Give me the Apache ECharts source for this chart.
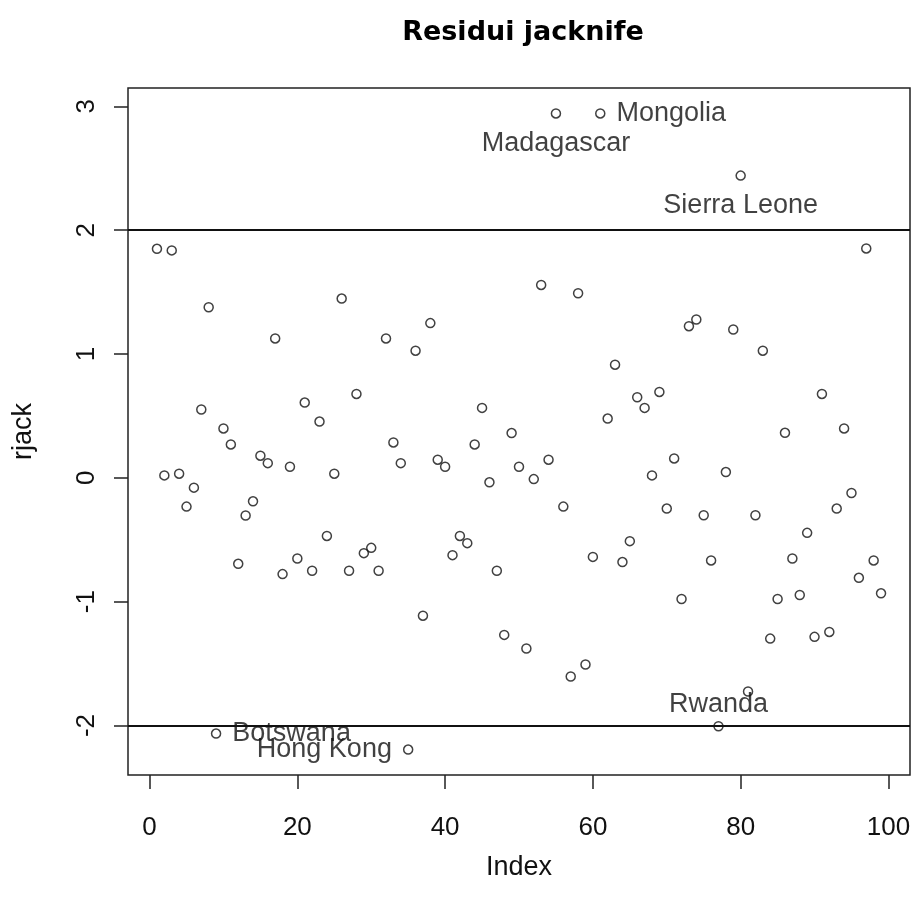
<!DOCTYPE html>
<html>
<head>
<meta charset="utf-8">
<title>Residui jacknife</title>
<script src="https://cdn.jsdelivr.net/npm/echarts@6/dist/echarts.min.js"></script>
<style>
  html, body { margin: 0; padding: 0; background: #ffffff; }
  #chart { width: 915px; height: 901px; }
</style>
</head>
<body>
<div id="chart"></div>
<script>
// Jackknife (studentized deleted) residuals, one per observation, in index order
const rjack = [
   1.850,  0.020,  1.837,  0.034, -0.232, -0.079,  0.552,  1.378, -2.065,  0.399,
   0.270, -0.694, -0.304, -0.189,  0.179,  0.119,  1.126, -0.777,  0.090, -0.651,
   0.608, -0.750,  0.455, -0.469,  0.034,  1.448, -0.750,  0.678, -0.608, -0.565,
  -0.750,  1.126,  0.286,  0.119, -2.194,  1.027, -1.113,  1.250,  0.147,  0.090,
  -0.624, -0.469, -0.527,  0.270,  0.565, -0.036, -0.750, -1.268,  0.362,  0.090,
  -1.378, -0.010,  1.558,  0.147,  2.943, -0.232, -1.604,  1.491, -1.507, -0.638,
   2.943,  0.479,  0.914, -0.680, -0.511,  0.651,  0.565,  0.020,  0.694, -0.248,
   0.157, -0.978,  1.225,  1.279, -0.302, -0.667, -2.006,  0.047,  1.198,  2.441,
  -1.725, -0.302,  1.027, -1.298, -0.978,  0.364, -0.651, -0.946, -0.444, -1.284,
   0.678, -1.244, -0.248,  0.399, -0.122, -0.807,  1.853, -0.667, -0.932
];

// Observations flagged as outliers (|rjack| > 2)
const flaggedIndex = [9, 35, 55, 61, 77, 80];
const flaggedName  = ['Botswana', 'Hong Kong', 'Madagascar', 'Mongolia', 'Rwanda', 'Sierra Leone'];

// Cut-off lines
const cutoffs = [2, -2];

// Axis ticks
const xTicks = [0, 20, 40, 60, 80, 100];
const yTicks = [-2, -1, 0, 1, 2, 3];

const titleText = 'Residui jacknife';
const xName = 'Index';
const yName = 'rjack';

// ---- layout / styling ----
const TXT = '#111';
const FONT = '"Liberation Sans", Arial, sans-serif';

// where each flag label sits relative to its point
const labelPlacement = {
  'Botswana':     { position: 'right',  distance: 11 },
  'Hong Kong':    { position: 'left',   distance: 11 },
  'Madagascar':   { position: 'bottom', distance: 11 },
  'Mongolia':     { position: 'right',  distance: 11 },
  'Rwanda':       { position: 'top',    distance: 3 },
  'Sierra Leone': { position: 'bottom', distance: 11 }
};

const n = rjack.length;
const xPad = 0.04 * (n - 1);
const yMinV = Math.min(...rjack), yMaxV = Math.max(...rjack);
const yPad = 0.04 * (yMaxV - yMinV);

const points = rjack.map((v, i) => {
  const idx = i + 1;
  const k = flaggedIndex.indexOf(idx);
  const item = { value: [idx, v] };
  if (k >= 0) {
    const name = flaggedName[k];
    const pl = labelPlacement[name];
    item.label = {
      show: true,
      formatter: name,
      position: pl.position,
      distance: pl.distance,
      fontFamily: FONT,
      fontSize: 27,
      color: TXT
    };
  }
  return item;
});

const chart = echarts.init(document.getElementById('chart'), null, { renderer: 'canvas' });

chart.setOption({
  backgroundColor: '#ffffff',
  animation: false,
  title: {
    text: titleText,
    left: 518,
    textAlign: 'center',
    top: 14,
    textStyle: {
      fontFamily: '"DejaVu Sans", sans-serif',
      fontWeight: 'bold',
      fontSize: 27,
      color: '#000'
    }
  },
  grid: {
    left: 128,
    top: 88,
    width: 782,
    height: 687,
    show: true,
    borderColor: '#222',
    borderWidth: 1.5,
    backgroundColor: 'transparent'
  },
  xAxis: {
    type: 'value',
    min: 1 - xPad,
    max: n + xPad,
    position: 'bottom',
    name: xName,
    nameLocation: 'middle',
    nameGap: 79,
    nameTextStyle: { fontFamily: FONT, fontSize: 27, color: TXT },
    axisLine: { show: false, onZero: false },
    splitLine: { show: false },
    axisTick: {
      show: true,
      inside: false,
      length: 14,
      customValues: xTicks,
      lineStyle: { color: '#222', width: 1.5 }
    },
    axisLabel: {
      show: true,
      customValues: xTicks,
      margin: 40,
      fontFamily: FONT,
      fontSize: 26,
      color: TXT
    }
  },
  yAxis: {
    type: 'value',
    min: yMinV - yPad,
    max: yMaxV + yPad,
    position: 'left',
    name: yName,
    nameLocation: 'middle',
    nameGap: 91,
    nameRotate: 90,
    nameTextStyle: { fontFamily: FONT, fontSize: 27, color: TXT },
    axisLine: { show: false, onZero: false },
    splitLine: { show: false },
    axisTick: {
      show: true,
      inside: false,
      length: 14,
      customValues: yTicks,
      lineStyle: { color: '#222', width: 1.5 }
    },
    axisLabel: {
      show: true,
      customValues: yTicks,
      rotate: 90,
      margin: 28,
      fontFamily: FONT,
      fontSize: 26,
      color: TXT
    }
  },
  series: [{
    type: 'scatter',
    data: points,
    symbol: 'circle',
    symbolSize: 9,
    itemStyle: {
      color: 'rgba(0,0,0,0)',
      borderColor: '#111',
      borderWidth: 1.5
    },
    emphasis: { disabled: true },
    labelLayout: { hideOverlap: false },
    markLine: {
      silent: true,
      symbol: ['none', 'none'],
      label: { show: false },
      lineStyle: { color: '#111', type: 'solid', width: 1.8 },
      data: cutoffs.map(c => ({ yAxis: c }))
    }
  }]
});
</script>
</body>
</html>
